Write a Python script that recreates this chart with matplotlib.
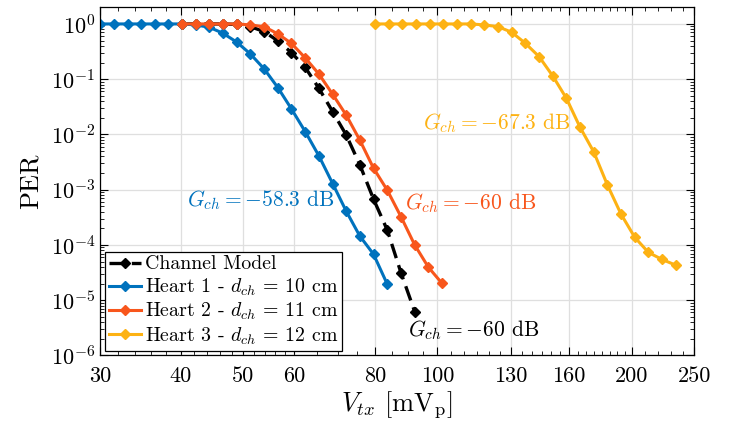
import numpy as np
import matplotlib
matplotlib.use("Agg")
import matplotlib.pyplot as plt
from matplotlib.ticker import FixedLocator, NullFormatter, LogLocator

plt.rcParams['font.family'] = 'serif'
plt.rcParams['font.serif'] = ['cmr10']
plt.rcParams['mathtext.fontset'] = 'cm'
plt.rcParams['axes.formatter.use_mathtext'] = True
plt.rcParams['axes.unicode_minus'] = False

# channel model (first points hidden under heart 2)
v_model = [40.2, 42.2, 44.3, 46.5, 48.9, 51.3, 53.9, 56.6, 59.4, 62.4, 65.5,
           68.8, 72.2, 75.8, 79.6, 83.6, 87.8, 92.2]
per_model = [1.0, 1.0, 1.0, 1.0, 0.98, 0.893, 0.726, 0.492, 0.302, 0.163, 0.0684,
             0.0258, 0.0098, 0.00283, 6.76e-4, 1.86e-4, 3.13e-5, 6.2e-6]

# heart 1, d = 10 cm
v_h1 = [30, 31.5, 33.1, 34.7, 36.5, 38.3, 40.2, 42.2, 44.3, 46.5, 48.9, 51.3,
        53.9, 56.6, 59.4, 62.4, 65.5, 68.8, 72.2, 75.8, 79.6, 83.6]
per_h1 = [1.0, 1.0, 1.0, 1.0, 1.0, 1.0, 1.0, 0.96, 0.87, 0.68, 0.466, 0.286,
          0.153, 0.070, 0.0289, 0.0112, 0.0041, 0.00129, 4.1e-4, 1.45e-4, 6.8e-5, 1.95e-5]

# heart 2, d = 11 cm
v_h2 = [40.2, 42.2, 44.3, 46.5, 48.9, 51.3, 53.9, 56.6, 59.4, 62.4, 65.5, 68.8,
        72.2, 75.8, 79.6, 83.6, 87.8, 92.2, 96.8, 101.6]
per_h2 = [1.0, 1.0, 1.0, 1.0, 1.0, 0.96, 0.89, 0.66, 0.444, 0.242, 0.124, 0.0533,
          0.0224, 0.0079, 0.00245, 0.00098, 3.24e-4, 1.0e-4, 3.96e-5, 2.03e-5]

# heart 3, d = 12 cm
v_h3 = [80, 84, 88.2, 92.6, 97.2, 102.1, 107.2, 112.6, 118.2, 124.1, 130.3, 136.8,
        143.7, 150.9, 158.4, 166.3, 174.6, 183.4, 192.5, 202.2, 212.3, 222.9, 234.0]
per_h3 = [1.0, 1.0, 1.0, 1.0, 1.0, 1.0, 1.0, 1.0, 0.96, 0.893, 0.708, 0.447,
          0.256, 0.114, 0.0451, 0.0135, 0.00486, 0.00121, 3.61e-4, 1.37e-4,
          7.31e-5, 5.46e-5, 4.31e-5]

x_ticks = [30, 40, 50, 60, 80, 100, 130, 160, 200, 250]
x_minor = [32, 34, 36, 38, 42, 44, 46, 48, 52, 54, 56, 58, 65, 70, 75, 85, 90, 95,
           105, 110, 115, 120, 125, 135, 140, 145, 150, 155, 165, 170, 175, 180,
           185, 190, 195, 210, 220, 230, 240]

c_blue = '#0072BD'
c_orange = '#F8561C'
c_yellow = '#FDB213'

fig = plt.figure(figsize=(7.29, 4.30), dpi=100)
ax = fig.add_axes([0.1372, 0.1733, 0.8152, 0.8111])

ax.plot(v_model, per_model, color='k', ls=(0, (4.5, 2.2)), lw=2.4, marker='D',
        ms=4.8, label='Channel Model')
ax.plot(v_h1, per_h1, color=c_blue, lw=2.2, marker='D', ms=4.8,
        label='Heart 1 - $d_{ch}$ = 10 cm')
ax.plot(v_h2, per_h2, color=c_orange, lw=2.2, marker='D', ms=4.8,
        label='Heart 2 - $d_{ch}$ = 11 cm')
ax.plot(v_h3, per_h3, color=c_yellow, lw=2.2, marker='D', ms=4.8,
        label='Heart 3 - $d_{ch}$ = 12 cm')

ax.set_xscale('log')
ax.set_yscale('log')
ax.set_xlim(30, 250)
ax.set_ylim(1e-6, 2.05)

ax.xaxis.set_major_locator(FixedLocator(x_ticks))
ax.xaxis.set_minor_locator(FixedLocator(x_minor))
ax.xaxis.set_minor_formatter(NullFormatter())
ax.set_xticklabels([str(t) for t in x_ticks])
ax.yaxis.set_major_locator(LogLocator(base=10, numticks=20))
ax.yaxis.set_minor_locator(LogLocator(base=10, subs=np.arange(2, 10), numticks=20))
ax.yaxis.set_minor_formatter(NullFormatter())

ax.tick_params(which='both', direction='in', top=True, right=True, labelsize=16)
ax.tick_params(which='major', length=6, width=0.8)
ax.tick_params(which='minor', length=3, width=0.6)
ax.tick_params(axis='x', pad=8)
ax.grid(True, which='major', color='#DFDFDF', lw=0.9)
ax.set_axisbelow(True)
for s in ax.spines.values():
    s.set_linewidth(0.9)

ax.set_xlabel('$V_{tx}$ [mV$_\\mathrm{p}$]', fontsize=19, labelpad=2)
ax.set_ylabel('PER', fontsize=19, labelpad=6)

ax.text(40.9, 6.5e-4, '$G_{ch} = -58.3$ dB', color=c_blue, fontsize=15.5, va='center')
ax.text(89.0, 5.75e-4, '$G_{ch} = -60$ dB', color=c_orange, fontsize=15.5, va='center')
ax.text(94.9, 0.0162, '$G_{ch} = -67.3$ dB', color=c_yellow, fontsize=15.5, va='center')
ax.text(90.0, 2.9e-6, '$G_{ch} = -60$ dB', color='k', fontsize=15.5, va='center')

leg = ax.legend(loc='lower left', fontsize=14.3, fancybox=False, edgecolor='k',
                framealpha=1, handlelength=1.6, handletextpad=0.2,
                labelspacing=0.15, borderpad=0.2, borderaxespad=0.25)
leg.get_frame().set_linewidth(0.9)

fig.savefig('out.png', dpi=100)
